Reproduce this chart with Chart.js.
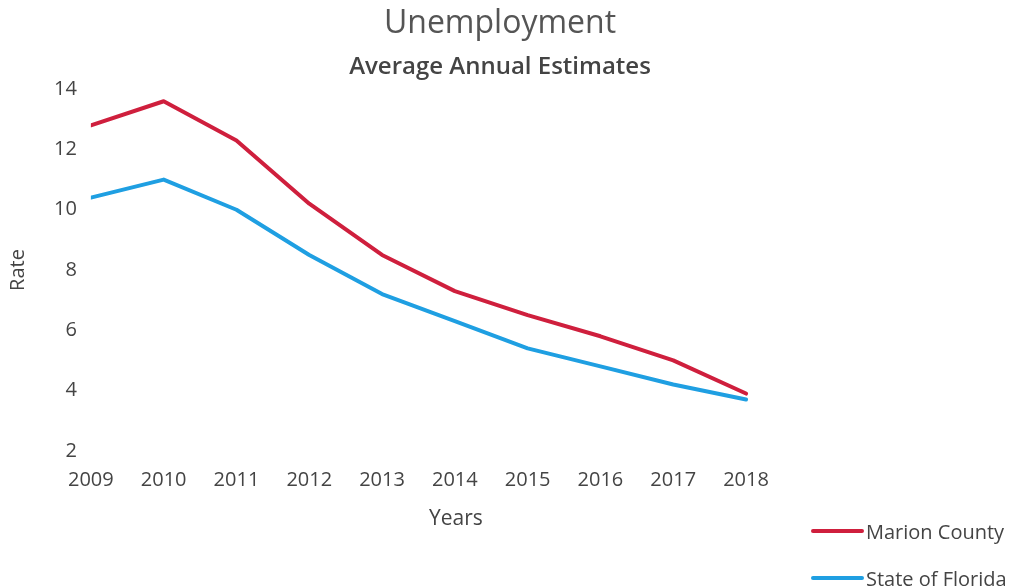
<!DOCTYPE html>
<html>
<head>
<meta charset="utf-8">
<script src="https://cdn.jsdelivr.net/npm/chart.js@4.4.1/dist/chart.umd.min.js"></script>
<style>
    body { margin: 0; background: #fff; }
    #wrap { position: relative; width: 1018px; height: 588px; }
    #legend { position: absolute; left: 811px; top: 515px; font-family: "Open Sans", sans-serif; font-size: 20px; color: #444; }
    .leg-item { display: flex; align-items: center; height: 32px; margin-bottom: 15px; }
    .leg-line { width: 53px; height: 4px; border-radius: 2px; margin-right: 2px; }
</style>
</head>
<body>
<div id="wrap">
    <canvas id="chart" width="1018" height="588"></canvas>
    <div id="legend"></div>
</div>
<script>
const years = [2009, 2010, 2011, 2012, 2013, 2014, 2015, 2016, 2017, 2018];
const marionCounty = [12.8, 13.6, 12.3, 10.2, 8.5, 7.3, 6.5, 5.8, 5.0, 3.9];
const stateOfFlorida = [10.4, 11.0, 10.0, 8.5, 7.2, 6.3, 5.4, 4.8, 4.2, 3.7];
const yTicks = [2, 4, 6, 8, 10, 12, 14];

const RED = "#cf1f3d";
const BLUE = "#1f9fe2";
const FONT = "'Open Sans', sans-serif";

// plot area runs a bit past the last year, like the excel original
const X_MIN = 2009;
const X_MAX = 2019.03;

const toPoints = vals => years.map((yr, i) => ({ x: yr, y: vals[i] }));

const chart = new Chart(document.getElementById("chart"), {
    type: "line",
    data: {
        datasets: [
            { label: "Marion County", data: toPoints(marionCounty), borderColor: RED, backgroundColor: RED },
            { label: "State of Florida", data: toPoints(stateOfFlorida), borderColor: BLUE, backgroundColor: BLUE }
        ]
    },
    options: {
        responsive: false,
        animation: false,
        elements: {
            line: { borderWidth: 4, tension: 0, borderCapStyle: "round", borderJoinStyle: "round" },
            point: { radius: 0 }
        },
        layout: { padding: { left: 2, right: 20, top: 5, bottom: 52 } },
        plugins: {
            legend: { display: false },
            tooltip: { enabled: false },
            title: {
                display: true,
                text: "Unemployment",
                color: "#555",
                font: { family: FONT, size: 32, weight: "normal" },
                padding: { top: 0, bottom: 9 }
            },
            subtitle: {
                display: true,
                text: "Average Annual Estimates",
                color: "#444",
                font: { family: FONT, size: 24, weight: "600" },
                padding: { top: 0, bottom: 8 }
            }
        },
        scales: {
            x: {
                type: "linear",
                min: X_MIN,
                max: X_MAX,
                afterBuildTicks: s => { s.ticks = years.map(v => ({ value: v })); },
                grid: { display: false },
                border: { display: false },
                ticks: { color: "#444", font: { family: FONT, size: 20 }, padding: 9, maxRotation: 0, callback: v => String(v) },
                title: { display: true, text: "Years", color: "#444", font: { family: FONT, size: 21 }, padding: { top: 6 } }
            },
            y: {
                min: 2,
                max: 14,
                afterBuildTicks: s => { s.ticks = yTicks.map(v => ({ value: v })); },
                grid: { display: false },
                border: { display: false },
                ticks: { color: "#444", font: { family: FONT, size: 20 }, padding: 6 },
                title: { display: true, text: "Rate", color: "#444", font: { family: FONT, size: 20 }, padding: { bottom: 18 } }
            },
            pad: {
                position: "right",
                display: true,
                grid: { display: false },
                border: { display: false },
                ticks: { display: false },
                afterFit: s => { s.width = 177; }
            }
        }
    }
});

// legend as html, built from the datasets
const legend = document.getElementById("legend");
chart.data.datasets.forEach(ds => {
    const item = document.createElement("div");
    item.className = "leg-item";
    item.innerHTML = `<span class="leg-line" style="background:${ds.borderColor}"></span><span>${ds.label}</span>`;
    legend.appendChild(item);
});
</script>
</body>
</html>
